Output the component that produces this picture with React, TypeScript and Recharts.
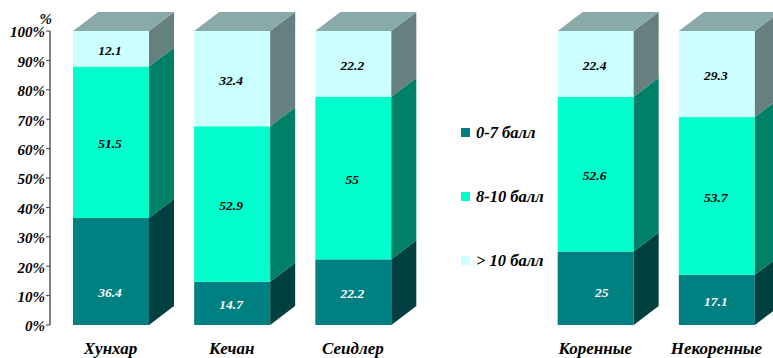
import React from "react";
import { Bar, BarChart, LabelList, Legend, XAxis, YAxis } from "recharts";

// blank slot separates the districts from the two resident groups
const categories = ["Хунхар", "Кечан", "Сеидлер", "", "Коренные", "Некоренные"];
const lowScores = [36.4, 14.7, 22.2, null, 25, 17.1];
const midScores = [51.5, 52.9, 55, null, 52.6, 53.7];
const highScores = [12.1, 32.4, 22.2, null, 22.4, 29.3];
const percentTicks = [0, 0.1, 0.2, 0.3, 0.4, 0.5, 0.6, 0.7, 0.8, 0.9, 1];

const rows = categories.map((name, i) => ({
  name,
  low: lowScores[i],
  mid: midScores[i],
  high: highScores[i],
}));

const SERIF = "'Liberation Serif', 'Times New Roman', serif";
const DEPTH_X = 25;
const DEPTH_Y = 19;

// front face plus the receding side; the top series also gets a lid
function Prism(props: any) {
  const { x, y, width, height, fill, sideFill, lid } = props;
  if (!height || height <= 0) return null;
  const r = x + width;
  return (
    <g>
      <rect x={x} y={y} width={width} height={height} fill={fill} />
      <polygon
        fill={sideFill}
        points={`${r},${y} ${r + DEPTH_X},${y - DEPTH_Y} ${r + DEPTH_X},${y + height - DEPTH_Y} ${r},${y + height}`}
      />
      {lid && (
        <polygon
          fill="#88aaa8"
          points={`${x},${y} ${x + DEPTH_X},${y - DEPTH_Y} ${r + DEPTH_X},${y - DEPTH_Y} ${r},${y}`}
        />
      )}
    </g>
  );
}

// two of the dark segments carry their number below the middle
const lowLabelShift: Record<string, [number, number]> = {
  "36.4": [0, 20],
  "25": [7, 3],
};

function ValueLabel(props: any) {
  const { x, y, width, height, value, fill } = props;
  if (value == null) return null;
  const [dx, dy] = fill === "#ffffff" ? lowLabelShift[String(value)] || [0, 0] : [0, 0];
  return (
    <text
      x={x + width / 2 + dx - 1}
      y={y + height / 2 + dy + 6}
      textAnchor="middle"
      fontFamily={SERIF}
      fontSize={13.5}
      fontWeight="bold"
      fontStyle="italic"
      fill={fill}
    >
      {value}
    </text>
  );
}

function LegendList({ payload }: any) {
  return (
    <div style={{ fontFamily: SERIF, fontSize: 16.5, fontWeight: "bold", fontStyle: "italic", color: "#000" }}>
      {(payload || []).map((item: any) => (
        <div key={item.value} style={{ position: "relative", height: 64, lineHeight: "17px", paddingLeft: 15, whiteSpace: "nowrap" }}>
          <span style={{ position: "absolute", left: 0, top: 4, width: 9, height: 9, background: item.color }} />
          {item.value}
        </div>
      ))}
    </div>
  );
}

export default function App() {
  return (
    <div style={{ position: "absolute", left: 0, top: 0, width: 773, height: 358, overflow: "hidden", background: "#fff" }}>
      <BarChart
        width={799}
        height={358}
        data={rows}
        stackOffset="expand"
        barSize={76}
        margin={{ top: 31, right: 22, bottom: 0, left: 0 }}
      >
        <XAxis
          dataKey="name"
          height={33}
          interval={0}
          axisLine={false}
          tickLine={false}
          tickMargin={11}
          tick={{ fontFamily: SERIF, fontSize: 17, fontWeight: "bold", fontStyle: "italic", fill: "#000" }}
        />
        <YAxis
          width={50}
          domain={[0, 1]}
          ticks={percentTicks}
          interval={0}
          tickFormatter={(v: number) => `${Math.round(v * 100)}%`}
          axisLine={{ stroke: "#808080", strokeWidth: 2 }}
          tickLine={{ stroke: "#404040" }}
          tickSize={4}
          tickMargin={1}
          tick={{ fontFamily: SERIF, fontSize: 15, fontWeight: "bold", fontStyle: "italic", fill: "#000", dy: 1 }}
          label={{
            value: "%",
            position: "insideTopRight",
            offset: 0,
            dx: 2,
            dy: -18,
            style: { fontFamily: SERIF, fontSize: 15, fontWeight: "bold", fontStyle: "italic", fill: "#000" },
          }}
        />
        <Legend
          layout="vertical"
          align="center"
          verticalAlign="middle"
          wrapperStyle={{ position: "absolute", left: 461, top: 124, width: 110 }}
          content={<LegendList />}
        />
        <Bar
          dataKey="low"
          name="0-7 балл"
          stackId="score"
          fill="#008080"
          isAnimationActive={false}
          shape={(p: any) => <Prism {...p} sideFill="#004040" />}
        >
          <LabelList dataKey="low" content={(p: any) => <ValueLabel {...p} fill="#ffffff" />} />
        </Bar>
        <Bar
          dataKey="mid"
          name="8-10 балл"
          stackId="score"
          fill="#00ffcc"
          isAnimationActive={false}
          shape={(p: any) => <Prism {...p} sideFill="#008066" />}
        >
          <LabelList dataKey="mid" content={(p: any) => <ValueLabel {...p} fill="#000000" />} />
        </Bar>
        <Bar
          dataKey="high"
          name="> 10 балл"
          stackId="score"
          fill="#ccffff"
          isAnimationActive={false}
          shape={(p: any) => <Prism {...p} sideFill="#668080" lid />}
        >
          <LabelList dataKey="high" content={(p: any) => <ValueLabel {...p} fill="#000000" />} />
        </Bar>
      </BarChart>
    </div>
  );
}
